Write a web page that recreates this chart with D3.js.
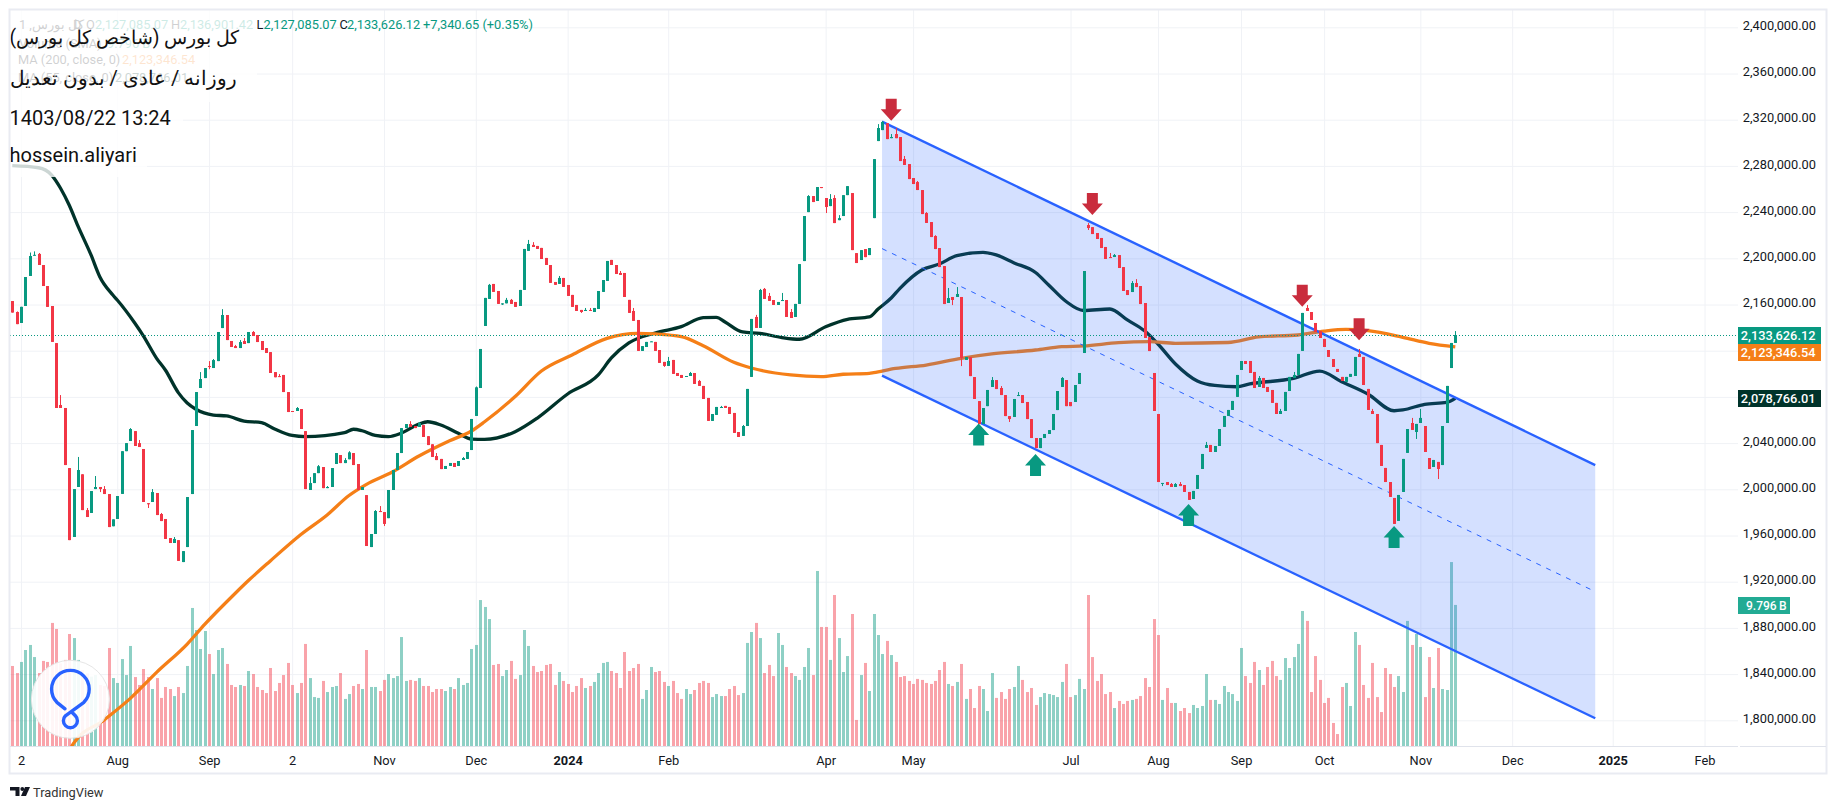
<!DOCTYPE html>
<html>
<head>
<meta charset="utf-8">
<title>chart</title>
<script src="https://cdnjs.cloudflare.com/ajax/libs/d3/7.8.5/d3.min.js"></script>
<style>
    html,body{margin:0;padding:0;background:#fff;}
    svg{display:block;}
    text{font-family:Roboto,sans-serif;}
</style>
</head>
<body>
<div id="graphWrapper"></div>
<script>
//prices are in thousands, one entry per trading day
const opens = [
    2163,2153.5,2144,2158.7,2184.7,2202.4,2203.8,2194.2,2176,2158.7,
    2126.6,2073,2070.4,2018.4,1958.7,2002,2013,1982,1979.5,2000.2,
    2002,2000.2,1995.9,1968,1974.3,1996,2033,2041.8,2050.4,2040,
    2034.9,1988,1989,1996.8,1978.6,1974.3,1957.8,1953.5,1956,1937,
    1950,1995.9,2054.8,2087.7,2096.3,2106.7,2105,2111,2139.6,2150.9,
    2128.4,2124,2122.3,2128.4,2126.6,2136.2,2133.6,2128.4,2122.3,2118.8,
    2101.5,2098,2099,2084.2,2067.8,2067.8,2069.5,2050.4,1999.4,2005.4,
    2014,2019.3,2001,2002,2021.9,2029.7,2022.7,2026,2031.4,2021.9,
    1999.4,1995,1950,1961.3,1981.2,1980.3,1975,1999.4,2016.7,2031.4,
    2053,2056.5,2054.8,2054,2055.6,2046,2039,2028.8,2026.3,2017.6,
    2020.2,2022.8,2020.2,2025.4,2026.3,2034,2063.5,2087.7,2141.4,2164.8,
    2177.8,2171.7,2160,2161,2164,2162.2,2158.7,2172.6,2206.4,2211.6,
    2210.7,2209,2200.3,2194.2,2179.5,2177.8,2183,2176.9,2168.3,2159.6,
    2155.3,2154.4,2155.3,2153.5,2156.1,2170.9,2180.4,2198.6,2194.2,2187.3,
    2187.3,2164,2154.4,2146.6,2119.8,2123.2,2127.6,2127.6,2120.6,2110.3,
    2106.8,2112,2100.7,2099,2097.5,2098.1,2100.7,2093.8,2089.5,2079.1,
    2059.2,2064.4,2070.4,2072.2,2071.3,2066.1,2049.6,2046.2,2054.8,2097.3,
    2149.2,2139.7,2173.5,2167.4,2163.9,2159.6,2163,2163.9,2153.5,2149.2,
    2160.5,2197.6,2240,2253.9,2249.6,2261.7,2252.2,2245.2,2252.2,2233,
    2236.6,2254.7,2256.5,2204.5,2198.5,2208,2202.8,2234.8,2301.5,2311,
    2317,2304,2307.6,2305,2286,2281.6,2269.5,2266,2259.1,2239.2,
    2231.4,2219.3,2208.9,2193.3,2161.3,2166.5,2166.5,2166.5,2112,2114.5,
    2097.2,2076.4,2056.5,2072,2088.6,2094.6,2087.7,2081.6,2063.4,2062.6,
    2080.8,2081.6,2075.6,2060.8,2044.4,2035.7,2044.4,2047.9,2051.3,2068.6,
    2088.6,2094.6,2075.6,2075.6,2091.2,2118,2228.8,2227,2221.9,2217.6,
    2209.8,2201.1,2201.1,2202.8,2192.4,2172.5,2170.8,2178.6,2176,2161.3,
    2131.8,2100.7,2065.2,2005,2006.3,2004.6,2002,2004.6,2003.7,1997.7,
    1991.6,2000.3,2017.6,2035.8,2038.4,2032.3,2037.5,2054,2063.5,2068.7,
    2080,2103.3,2111.1,2111.1,2101.6,2088.6,2096.4,2088.6,2086,2074.8,
    2065.2,2067.8,2085.1,2096.4,2099,2119.8,2157,2153.5,2144,2137,
    2130.2,2120.6,2112.8,2104.2,2097.3,2093,2097.3,2098.1,2117.2,2114.6,
    2086.9,2067.8,2065.2,2038.4,2018.5,2006.3,1992.5,1972.6,1997.7,2031.5,
    2057.4,2049.6,2057.4,2054.8,2027.1,2019.3,2023.7,2021,2057.4,2105,2126.7
];
const closes = [
    2153,2143,2158,2183.8,2202,2203,2194.2,2176,2157.9,2127.6,
    2070.4,2070.4,2021,1956,2000.2,2016.7,1982,1976,1998.5,2002,
    2000.2,1995.9,1967.3,1974,1994.2,2033,2040,2052.2,2037.5,2036.6,
    1989,1987,1997.6,1977.7,1972.5,1957,1953.5,1957,1938,1946.5,
    1993.3,2051.3,2084.2,2095.5,2105,2105.9,2111.9,2136.2,2150.9,2129.2,
    2123.2,2122.3,2127.5,2125.8,2136.2,2132.7,2127.5,2120.6,2118,2100.7,
    2097,2097.2,2084.2,2066.9,2067,2070.4,2052.2,2000.2,2005.4,2014,
    2020,2001,2002,2018.4,2031.4,2022.7,2025.3,2032,2021,1999.4,
    2002,1950.9,1961.3,1981.2,1980.3,1970,1999.4,2016.7,2031.4,2053,
    2056.5,2054,2053,2057.4,2045.3,2038.3,2028,2025.3,2017.5,2020.2,
    2022.8,2019.3,2024.5,2027.1,2032.3,2060.9,2088.3,2121.5,2165.7,2177,
    2170.9,2160.5,2161,2164,2160.5,2157.9,2172.6,2208.1,2212.4,2209.8,
    2208.1,2199.4,2194.2,2178.7,2177,2183,2175.2,2167.4,2157.9,2154.4,
    2153.5,2155.3,2154.4,2157,2171.7,2181.2,2197.7,2194.2,2186.4,2185.6,
    2166.5,2152.7,2145.8,2119.8,2124,2127.6,2128.1,2119.8,2109.4,2106.8,
    2111.1,2099.9,2098.1,2096.4,2098.1,2100.7,2091.2,2089.5,2078.2,2059.2,
    2065.2,2071.3,2071.3,2070.4,2065.2,2048.8,2045.3,2054.8,2086.9,2147.5,
    2139.7,2172.6,2164.8,2163.1,2159.6,2162.2,2163.9,2149.2,2148.3,2160.5,
    2195,2236.6,2253.9,2248.7,2261.7,2260.8,2244.4,2251.3,2230.5,2234.8,
    2254.7,2262.5,2207.1,2195.9,2207.1,2201,2208.9,2285.9,2312.8,2318,
    2303.2,2305,2304,2284.2,2280.8,2268.6,2264.3,2259.1,2238.3,2230.6,
    2218.4,2208,2192.4,2160.4,2165.6,2163.9,2169.1,2113.7,2114.5,2098,
    2078.2,2056.5,2070.4,2086,2094.6,2086.8,2081.6,2063.4,2060.8,2078.2,
    2081.6,2074.7,2060.8,2044.4,2035.7,2044.4,2047.9,2051.3,2065.2,2085.1,
    2096.4,2072,2072,2090.3,2100.7,2189,2226.2,2221,2216.7,2208.9,
    2199.4,2200.2,2202.8,2191.6,2171.7,2168.2,2178.6,2175.1,2160.4,2131,
    2119.7,2067.8,2006.3,2005.5,2003.7,2002,2004.6,2002.8,1997.7,1990.8,
    1998.6,2012.4,2030.6,2038.4,2032.3,2037.5,2052.2,2063.5,2068.7,2076.5,
    2099,2111.1,2108.5,2100.7,2087.7,2096.4,2087.7,2084.3,2074.8,2065.2,
    2067.8,2084.3,2097.3,2099,2117.2,2152.7,2154.4,2146.6,2136.2,2131,
    2123.2,2114.6,2105.9,2101.6,2093.8,2097.3,2099.9,2114.6,2114.6,2090.3,
    2068.7,2065.2,2040,2020.2,2006.3,1993.4,1970,1995.1,2026.3,2052.2,
    2051.4,2056.6,2061.8,2032.3,2017.6,2025.4,2017.6,2054.8,2089.5,2126.7,2133.6
];
//[day number (from 1), price], only days where the wick sticks out of the body
const upperWicks = [
    [2,2154],[5,2205],[6,2206],[7,2204.6],[12,2081.6],[16,2028],[18,1983.8],[20,2011.5],[22,2002.8],[28,2053],
    [30,2042.7],[33,2000.2],[35,1979.5],[38,1958.7],[44,2101.5],[46,2111],[47,2112.8],[49,2156],[52,2125],[53,2129.2],
    [54,2131],[56,2137],[62,2099.8],[66,2071.2],[69,2010.6],[71,2021],[73,2002.8],[77,2027],[78,2033],[84,1982],
    [85,1985.5],[92,2059],[94,2058.2],[98,2031.4],[104,2028],[107,2089],[110,2177.8],[114,2165.7],[115,2164.8],[119,2215.9],
    [120,2214],[126,2184.7],[132,2157],[133,2157],[140,2189],[143,2157],[151,2114.6],[156,2101.6],[158,2094.7],[163,2072.2],
    [168,2055.7],[171,2151],[172,2173.5],[173,2174.3],[174,2170],[177,2170],[179,2156.1],[183,2254.7],[188,2255.6],[189,2254.7],
    [190,2237.4],[199,2316.2],[200,2318.8],[202,2307.6],[203,2312.8],[205,2288.6],[208,2266.9],[210,2240],[212,2220],[215,2174.3],
    [217,2175.1],[225,2097.2],[227,2089.4],[231,2084.2],[241,2097.2],[247,2230.5],[252,2204.6],[253,2203.7],[257,2180.3],[258,2182],
    [266,2005.4],[267,2005.4],[268,2006.3],[274,2041],[286,2098.1],[291,2069.6],[294,2101.6],[297,2159.6],[309,2121.5],[312,2069.6],
    [321,2061.8],[323,2069.6],[331,2137]
];
const lowerWicks = [
    [21,1997.6],[32,1983.8],[46,2104],[86,1968.2],[113,2159.6],[131,2152.7],[150,2106],[187,2239.2],[216,2159.5],[218,2106.7],
    [229,2058.3],[247,2224.5],[264,2002.8],[322,2043.6],[327,2008.9]
];
//volume in billions
const volumes = [
    5.56,5.07,5.84,6.67,7.02,6.18,5.07,5.91,5.84,8.55,8.13,5.74,5.98,7.78,7.5,5.98,5.28,5.05,4.82,4.93,
    4.24,4.17,6.81,4.72,4.38,6.04,4.93,6.95,4.79,4.24,5.35,4.79,3.96,4.72,3.34,4.1,3.96,3.47,4.1,3.68,
    5.56,9.59,8.06,6.74,7.99,6.39,5,6.67,6.81,5.7,4.24,4.1,4.24,4.17,5.21,5,4.1,3.89,3.68,5.42,
    3.82,4.38,4.93,5.77,4.24,3.68,4.38,7.09,4.72,3.4,3.34,4.52,3.75,4.1,4.17,5.07,3.27,3.61,4.17,4.31,
    3.96,6.67,4.1,4.1,3.82,4.59,5,4.72,4.86,7.57,4.52,4.59,4.52,4.72,4.17,4.17,3.75,3.96,3.96,3.82,
    4.1,3.96,4.72,4.24,4.38,6.74,7.02,10.14,9.66,8.82,5.63,5.7,4.86,5.28,5.91,4.66,4.93,8.06,6.95,5.56,
    5.14,5.21,5.63,5.7,4.24,5.14,4.52,4.31,3.75,4.17,4.72,4.03,4.17,4.45,5.07,5.77,5.84,5.21,5.07,4.03,
    6.53,5.21,5.42,5.7,3.27,3.89,5.49,5.14,5.21,4.45,4.17,4.52,3.68,3.27,3.96,3.61,3.89,4.38,4.52,4.38,
    3.4,3.61,3.47,3.47,3.96,4.17,3.54,3.68,7.16,7.92,8.55,7.5,5.07,5.63,4.86,7.85,7.02,5.49,5.07,4.86,
    4.59,5.49,6.81,4.93,12.16,8.27,8.27,5.98,10.49,7.5,5.14,6.25,9.17,1.81,4.93,5.77,3.82,9.17,7.71,6.39,
    7.3,6.32,5.84,4.79,4.86,4.52,4.31,4.66,4.59,4.38,4.31,4.52,5.28,5.84,4.31,4.17,4.45,5.7,3.27,3.96,
    2.64,4.17,3.96,2.43,5.07,3.34,3.75,3.27,3.96,4.1,5.56,4.59,3.75,4.03,2.85,3.4,3.68,3.61,3.54,3.4,
    4.45,5.7,3.4,3.54,4.66,3.96,10.49,6.18,4.52,5,3.61,3.75,2.64,3.13,2.92,3.13,3.2,3.27,3.47,4.72,
    4.1,8.82,7.71,3.2,4.03,2.99,2.99,2.43,2.64,2.29,2.85,2.64,2.78,5,3.2,3.2,2.92,4.17,3.75,3.61,
    3.13,6.81,4.86,4.38,5.84,5.28,4.24,5.49,5.91,4.86,4.59,6.11,5.42,6.18,7.09,9.38,8.69,3.75,6.25,4.59,
    2.99,3.34,1.6,0.83,4.1,4.38,2.78,7.92,7.02,4.24,3.34,5.77,3.4,2.36,5.42,5,4.1,4.86,3.75,8.69,
    7.02,7.78,6.88,3.4,6.18,4.03,6.81,3.96,3.89,12.78,9.8
];
//[day index, price] read along the two moving averages
const ma55 = [
    [0,2280.2],[6,2278.4],[9,2272.1],[11,2260.9],[13,2246.1],[15,2228],[18,2202.9],[20,2184.1],[23,2168.2],[24,2163.9],
    [28,2144],[30,2132.7],[33,2113.4],[35,2103.3],[38,2083.5],[40,2074.7],[42,2069.3],[46,2064.3],[49,2063.5],[53,2059.1],
    [57,2057.7],[60,2052.2],[64,2046.6],[67,2045.6],[76,2049],[78,2052],[80,2050.7],[83,2046.6],[86,2045.6],[89,2048.7],
    [93,2056.5],[95,2058.5],[98,2055.7],[102,2048.5],[105,2043.5],[108,2043.3],[115,2049.9],[120,2061.5],[127,2082.5],[134,2099],
    [137,2113.7],[141,2126.7],[147,2135.3],[153,2140.8],[158,2148.6],[161,2148.9],[163,2144.9],[167,2136.2],[171,2135],[176,2131.4],
    [180,2129.9],[186,2140.8],[191,2147.2],[196,2149.2],[198,2156.1],[201,2165.6],[203,2174],[208,2189.9],[212,2195],[216,2202.3],
    [222,2205.2],[225,2202.9],[229,2196.2],[234,2187.7],[237,2176.9],[241,2162.6],[245,2154.8],[251,2156.1],[255,2146.6],[259,2137],
    [262,2125.8],[266,2108.5],[271,2093.8],[275,2089.9],[280,2088.8],[283,2091.2],[293,2096],[299,2102.4],[304,2093.2],[310,2082.5],
    [316,2068],[318,2068.7],[323,2073.6],[328,2075.3],[330,2078.8]
];
const ma200 = [
    [13,1773.4],[14,1780],[21,1800.3],[27,1819],[33,1841.5],[40,1866],[44,1883],[51,1910],[54,1921],[59,1938],
    [66,1960.9],[72,1977.8],[77,1994.6],[81,2004.3],[87,2015.2],[93,2028.8],[100,2042],[105,2050.5],[108,2058.5],[115,2080.3],
    [121,2102.4],[128,2116.3],[136,2130.7],[143,2135],[147,2134.5],[153,2132.1],[158,2124.3],[165,2110],[169,2105],[178,2099],
    [185,2097.5],[190,2099.6],[196,2100.4],[197,2101],[202,2104.6],[209,2107.6],[217,2113.4],[224,2117.2],[234,2120.6],[240,2123.5],
    [245,2124.1],[253,2127],[260,2127.8],[266,2126.4],[278,2127.1],[285,2131.9],[294,2133.6],[300,2137],[305,2138.5],[310,2137.3],
    [318,2131.6],[324,2126.4],[330,2123.3]
];
//descending channel, [day index, price] of both ends
const channelUpper = [[198.9,2318.4],[362,2021]];
const channelLower = [[198.9,2098.4],[362,1801.8]];
//signal arrows, [day index, price of the tip]
const downArrows = [[201,2319],[247,2237.5],[295,2158],[308,2129]];
const upArrows = [[221,2057],[234,2030.6],[269,1987.3],[316,1968.2]];

const priceTicks = d3.range(1800,2401,40);
const timeTickDays = [2,24,45,64,85,106,127,150,186,206,242,262,281,300,322,343,366,387];
const timeTickLabels = ['2','Aug','Sep','2','Nov','Dec','2024','Feb','Apr','May','Jul','Aug','Sep','Oct','Nov','Dec','2025','Feb'];
const lastClose = 2133.62612;
const lastMa200 = 2123.34654;
const lastMa55 = 2078.76601;
const lastVolume = 9.796;
const titleLines = ['کل بورس (شاخص کل بورس)','روزانه / عادی / بدون تعدیل','1403/08/22 13:24','hossein.aliyari'];

const CONSTANTS = {
    WIDTH:1836,
    HEIGHT:809,
    LEFT:10,           //left edge of the plot
    TOP:10,            //top edge of the plot
    PLOT_RIGHT:1738,   //price axis starts here
    PLOT_BOTTOM:746,   //time axis starts here
    RIGHT:1826,
    BOTTOM:773,
    UP:'#089981',
    DOWN:'#f23645',
    GRID:'#f0f2f6',
    BORDER:'#e9ebf2',
    BLUE:'#2962ff',
    ORANGE:'#f57f17',
    DARK:'#00332a',
    TEXT:'#131722',
    ARROW_RED:'#c92c3d'
};

let svg = d3.select('#graphWrapper').append('svg')
    .attr('width',CONSTANTS.WIDTH)
    .attr('height',CONSTANTS.HEIGHT);

//day index to pixel, the time scale runs on past the last day
let xScale = d3.scaleLinear().domain([0,330]).range([12.3,1455.3]);
let yScale = d3.scaleLinear().domain([1800,2400]).range([720.3,27.3]);
let volumeScale = d3.scaleLinear().domain([0,lastVolume]).range([CONSTANTS.PLOT_BOTTOM,605]);

let candles = opens.map((open,i)=>{
    return {day:i,open:open,close:closes[i],high:Math.max(open,closes[i]),low:Math.min(open,closes[i]),volume:volumes[i]};
});
upperWicks.forEach(d=>{candles[d[0]-1].high = d[1];});
lowerWicks.forEach(d=>{candles[d[0]-1].low = d[1];});

function candleColor(d){
    return d.close >= d.open ? CONSTANTS.UP : CONSTANTS.DOWN;
}

svg.append('defs').append('clipPath')
    .attr('id','plotClip')
    .append('rect')
    .attr('x',CONSTANTS.LEFT)
    .attr('y',CONSTANTS.TOP)
    .attr('width',CONSTANTS.PLOT_RIGHT - CONSTANTS.LEFT)
    .attr('height',CONSTANTS.PLOT_BOTTOM - CONSTANTS.TOP);

buildGrid();
let plot = svg.append('g').attr('clip-path','url(#plotClip)');
buildVolume();
buildAverages();
buildChannel();
buildCandles();
buildArrows();
buildWatermark();
buildLegend();
buildTitle();
buildAxis();
buildBadges();
buildFrame();

function buildGrid(){
    let g = svg.append('g').attr('class','grid');
    g.append('g')
        .attr('transform','translate(' + CONSTANTS.PLOT_RIGHT + ',0)')
        .call(d3.axisLeft(yScale).tickValues(priceTicks).tickSize(CONSTANTS.PLOT_RIGHT - CONSTANTS.LEFT).tickFormat(''));
    g.append('g')
        .attr('transform','translate(0,' + CONSTANTS.PLOT_BOTTOM + ')')
        .call(d3.axisTop(xScale).tickValues(timeTickDays).tickSize(CONSTANTS.PLOT_BOTTOM - CONSTANTS.TOP).tickFormat(''));
    g.selectAll('.domain').remove();
    g.selectAll('line').attr('stroke',CONSTANTS.GRID);
}

function buildVolume(){
    plot.append('g').selectAll('rect')
        .data(candles)
        .enter()
        .append('rect')
        .attr('x',d=>Math.round(xScale(d.day)) - 1)
        .attr('width',3)
        .attr('y',d=>volumeScale(d.volume))
        .attr('height',d=>CONSTANTS.PLOT_BOTTOM - volumeScale(d.volume))
        .attr('fill',candleColor)
        .attr('fill-opacity',0.46);
}

function buildAverages(){
    let line = d3.line()
        .x(d=>xScale(d[0]))
        .y(d=>yScale(d[1]))
        .curve(d3.curveMonotoneX);
    plot.append('path')
        .attr('d',line(ma55))
        .attr('fill','none')
        .attr('stroke',CONSTANTS.DARK)
        .attr('stroke-width',3.3);
    plot.append('path')
        .attr('d',line(ma200))
        .attr('fill','none')
        .attr('stroke',CONSTANTS.ORANGE)
        .attr('stroke-width',3.3);
}

function buildChannel(){
    let area = d3.area()
        .x(d=>xScale(d[0]))
        .y0((d,i)=>yScale(channelLower[i][1]))
        .y1(d=>yScale(d[1]));
    let line = d3.line()
        .x(d=>xScale(d[0]))
        .y(d=>yScale(d[1]));
    let middle = channelUpper.map((d,i)=>[d[0],(d[1] + channelLower[i][1]) / 2]);

    plot.append('path')
        .attr('d',area(channelUpper))
        .attr('fill',CONSTANTS.BLUE)
        .attr('fill-opacity',0.2);
    plot.append('path')
        .attr('d',line(middle))
        .attr('fill','none')
        .attr('stroke',CONSTANTS.BLUE)
        .attr('stroke-width',1)
        .attr('stroke-dasharray','5,6');
    [channelUpper,channelLower].forEach(points=>{
        plot.append('path')
            .attr('d',line(points))
            .attr('fill','none')
            .attr('stroke',CONSTANTS.BLUE)
            .attr('stroke-width',2.4);
    });
}

function buildCandles(){
    let g = plot.append('g');
    //dotted line of the last price goes under the bodies
    g.append('line')
        .attr('x1',CONSTANTS.LEFT)
        .attr('x2',CONSTANTS.PLOT_RIGHT)
        .attr('y1',Math.round(yScale(lastClose)) + 0.5)
        .attr('y2',Math.round(yScale(lastClose)) + 0.5)
        .attr('stroke',CONSTANTS.UP)
        .attr('stroke-dasharray','1,2');
    g.selectAll('.wick')
        .data(candles)
        .enter()
        .append('rect')
        .attr('class','wick')
        .attr('x',d=>Math.round(xScale(d.day)))
        .attr('width',1)
        .attr('y',d=>yScale(d.high))
        .attr('height',d=>yScale(d.low) - yScale(d.high))
        .attr('fill',candleColor);
    g.selectAll('.body')
        .data(candles)
        .enter()
        .append('rect')
        .attr('class','body')
        .attr('x',d=>Math.round(xScale(d.day)) - 1)
        .attr('width',3)
        .attr('y',d=>yScale(Math.max(d.open,d.close)))
        .attr('height',d=>Math.max(1,Math.abs(yScale(d.open) - yScale(d.close))))
        .attr('fill',candleColor);
}

//arrow shape, tip at 0,0 and pointing down, dir=-1 flips it up
function arrowPath(dir){
    let points = [[0,0],[-10.5,-11.5],[-5.5,-11.5],[-5.5,-22],[5.5,-22],[5.5,-11.5],[10.5,-11.5]];
    return d3.line()(points.map(p=>[p[0],p[1] * dir])) + 'Z';
}

function buildArrows(){
    let groups = [
        {data:downArrows,dir:1,color:CONSTANTS.ARROW_RED},
        {data:upArrows,dir:-1,color:CONSTANTS.UP}
    ];
    groups.forEach(group=>{
        svg.append('g').selectAll('path')
            .data(group.data)
            .enter()
            .append('path')
            .attr('d',arrowPath(group.dir))
            .attr('transform',d=>'translate(' + xScale(d[0]) + ',' + yScale(d[1]) + ')')
            .attr('fill',group.color);
    });
}

function buildWatermark(){
    let g = svg.append('g').attr('transform','translate(70.4,699.3)');
    g.append('circle')
        .attr('r',39)
        .attr('fill','#fff')
        .attr('fill-opacity',0.9)
        .attr('stroke','#e6e6e6');
    g.append('path')
        .attr('d','M-5.4,9.5 L-13.5,3 A18.8,18.8 0 1 1 13.5,3 L-5,16.5 A7,7 0 1 0 5,16.5 L1.5,13')
        .attr('fill','none')
        .attr('stroke',CONSTANTS.BLUE)
        .attr('stroke-width',3.4)
        .attr('stroke-linejoin','round')
        .attr('stroke-linecap','round');
}

function buildLegend(){
    let items = [
        {x:19,y:29,text:'1 ,کل بورس',color:'#131722'},
        {x:73,y:29,text:'D',color:'#131722'},
        {x:86,y:29,text:'O',color:'#131722'},
        {x:95,y:29,text:'2,127,085.07',color:CONSTANTS.UP},
        {x:171,y:29,text:'H',color:'#131722'},
        {x:180,y:29,text:'2,136,901.42',color:CONSTANTS.UP},
        {x:256.5,y:29,text:'L',color:'#131722'},
        {x:263.5,y:29,text:'2,127,085.07',color:CONSTANTS.UP},
        {x:339.5,y:29,text:'C',color:'#131722'},
        {x:347,y:29,text:'2,133,626.12',color:CONSTANTS.UP},
        {x:423,y:29,text:'+7,340.65 (+0.35%)',color:CONSTANTS.UP},
        {x:19,y:48,text:'Volume (SMA)',color:'#131722'},
        {x:107,y:48,text:'9.796 B',color:CONSTANTS.UP},
        {x:18,y:64,text:'MA (200, close, 0)',color:'#131722'},
        {x:122,y:64,text:'2,123,346.54',color:CONSTANTS.ORANGE},
        {x:18,y:82,text:'MA (55, close, 0)',color:'#131722'},
        {x:115,y:82,text:'2,078,766.01',color:CONSTANTS.DARK}
    ];
    svg.append('g').selectAll('text')
        .data(items)
        .enter()
        .append('text')
        .attr('x',d=>d.x)
        .attr('y',d=>d.y)
        .attr('fill',d=>d.color)
        .attr('font-size',12.8)
        .text(d=>d.text);
}

function buildTitle(){
    //white boxes behind the four lines, they are stacked over the chart
    let boxes = [[9,10,248,92],[9,102,174,35],[9,137,138,40]];
    svg.append('g').selectAll('rect')
        .data(boxes)
        .enter()
        .append('rect')
        .attr('x',d=>d[0])
        .attr('y',d=>d[1])
        .attr('width',d=>d[2])
        .attr('height',d=>d[3])
        .attr('fill','#fff')
        .attr('fill-opacity',0.8);

    let baselines = [44,85,125,162];
    let titleSizes = [19.3,20.3,20,20];
    let g = svg.append('g');
    titleLines.forEach((line,i)=>{
        let text = g.append('text')
            .attr('x',9.5)
            .attr('y',baselines[i])
            .attr('fill','#111')
            .attr('font-size',titleSizes[i])
            .text(line);
        if(i < 2){
            text.attr('direction','rtl')
                .attr('text-anchor','end')
                .attr('font-family','"DejaVu Sans",sans-serif');
        }
    });
}

function buildAxis(){
    let yAxis = d3.axisRight(yScale)
        .tickValues(priceTicks)
        .tickSize(0)
        .tickFormat(d=>d3.format(',.2f')(d * 1000));
    let yGroup = svg.append('g')
        .attr('transform','translate(1816,-2)')
        .call(yAxis);
    yGroup.selectAll('text')
        .attr('x',0)
        .attr('text-anchor','end')
        .attr('font-size',12.8)
        .attr('fill',CONSTANTS.TEXT);
    yGroup.select('.domain').remove();

    let xAxis = d3.axisBottom(xScale)
        .tickValues(timeTickDays)
        .tickSize(0)
        .tickFormat((d,i)=>timeTickLabels[i]);
    let xGroup = svg.append('g')
        .attr('transform','translate(0,' + CONSTANTS.PLOT_BOTTOM + ')')
        .call(xAxis);
    xGroup.selectAll('text')
        .attr('y',10)
        .attr('dy','0.71em')
        .attr('font-size',12.8)
        .attr('font-weight',(d,i)=>timeTickLabels[i].length == 4 ? 'bold' : 'normal')
        .attr('fill',CONSTANTS.TEXT);
    xGroup.select('.domain').remove();
}

function buildBadges(){
    let badges = [
        {price:lastClose,text:d3.format(',.2f')(lastClose * 1000),color:CONSTANTS.UP,y:327},
        {price:lastMa200,text:d3.format(',.2f')(lastMa200 * 1000),color:CONSTANTS.ORANGE,y:344},
        {price:lastMa55,text:d3.format(',.2f')(lastMa55 * 1000),color:CONSTANTS.DARK,y:390}
    ];
    let g = svg.append('g');
    g.selectAll('rect')
        .data(badges)
        .enter()
        .append('rect')
        .attr('x',CONSTANTS.PLOT_RIGHT)
        .attr('y',d=>d.y)
        .attr('width',83)
        .attr('height',17)
        .attr('fill',d=>d.color);
    g.selectAll('text')
        .data(badges)
        .enter()
        .append('text')
        .attr('x',1815.5)
        .attr('y',d=>d.y + 13)
        .attr('text-anchor','end')
        .attr('font-size',12.8)
        .attr('font-weight',500)
        .attr('fill','#fff')
        .text(d=>d.text);

    //volume badge
    g.append('rect')
        .attr('x',CONSTANTS.PLOT_RIGHT)
        .attr('y',597)
        .attr('width',52)
        .attr('height',17)
        .attr('fill','#22ab94');
    g.append('text')
        .attr('x',1746)
        .attr('y',610)
        .attr('font-size',12)
        .attr('font-weight',500)
        .attr('fill','#fff')
        .text(d3.format('.3f')(lastVolume) + '\u2009B');
}

function buildFrame(){
    svg.append('rect')
        .attr('x',CONSTANTS.LEFT - 0.5)
        .attr('y',CONSTANTS.TOP - 0.5)
        .attr('width',CONSTANTS.RIGHT - CONSTANTS.LEFT + 1)
        .attr('height',CONSTANTS.BOTTOM - CONSTANTS.TOP + 1)
        .attr('fill','none')
        .attr('stroke',CONSTANTS.BORDER)
        .attr('stroke-width',2);
    [[CONSTANTS.LEFT,CONSTANTS.PLOT_RIGHT],[CONSTANTS.PLOT_RIGHT + 2,CONSTANTS.RIGHT]].forEach(d=>{
        svg.append('line')
            .attr('x1',d[0])
            .attr('x2',d[1])
            .attr('y1',CONSTANTS.PLOT_BOTTOM + 0.5)
            .attr('y2',CONSTANTS.PLOT_BOTTOM + 0.5)
            .attr('stroke','#e0e3eb');
    });

    //TradingView mark under the chart
    let g = svg.append('g').attr('fill',CONSTANTS.TEXT);
    g.append('path').attr('d','M10,787H19.5V796H15.5V790.5H10Z');
    g.append('circle').attr('cx',22.3).attr('cy',789).attr('r',1.9);
    g.append('path').attr('d','M25,787H30L26,796H21Z');
    g.append('text')
        .attr('x',33)
        .attr('y',796.5)
        .attr('font-size',12.8)
        .attr('fill','#333')
        .text('TradingView');
}
</script>
</body>
</html>
